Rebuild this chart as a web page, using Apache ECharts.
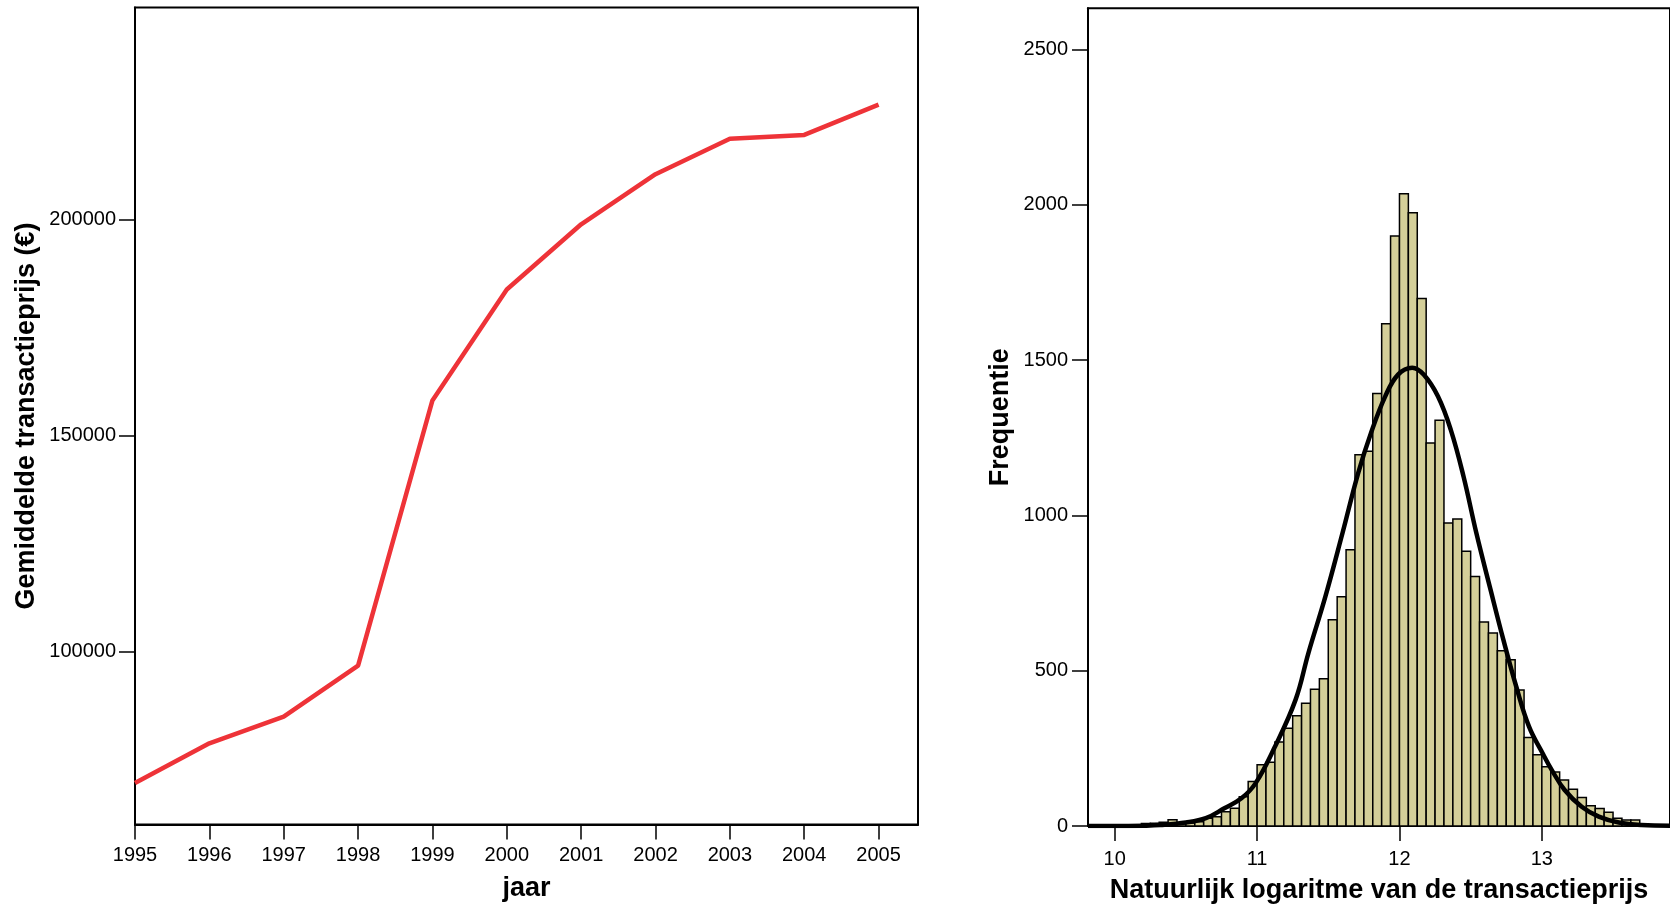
<!DOCTYPE html>
<html>
<head>
<meta charset="utf-8">
<title>Transactieprijs</title>
<script src="https://cdn.jsdelivr.net/npm/echarts@6.0.0/dist/echarts.min.js"></script>
<style>
html, body { margin: 0; padding: 0; background: #fff; overflow: hidden; }
#chart { width: 1670px; height: 912px; }
</style>
</head>
<body>
<div id="chart"></div>
<script>
// gemiddelde transactieprijs per jaar
var jaren = [1995, 1996, 1997, 1998, 1999, 2000, 2001, 2002, 2003, 2004, 2005];
var gemPrijs = [69600, 78800, 85000, 96800, 158200, 183900, 199000, 210600, 218800, 219700, 226700];
var prijsTicks = [100000, 150000, 200000];

// histogram ln(prijs), bins of 0.0625 starting at 9.8125
var binStart = 9.8125;
var binWidth = 0.0625;
var freq = [1, 2, 1, 2, 3, 3, 8, 9, 12, 20,
            8, 10, 14, 25, 30, 46, 57, 94, 143, 197,
            205, 270, 315, 355, 395, 440, 474, 664, 738, 889,
            1195, 1206, 1392, 1617, 1899, 2035, 1974, 1698, 1233, 1306,
            975, 988, 884, 803, 657, 621, 564, 535, 438, 285,
            229, 191, 174, 148, 118, 92, 65, 56, 44, 25,
            19, 19, 6, 4, 2, 1];
var lnTicks = [10, 11, 12, 13];
var freqTicks = [0, 500, 1000, 1500, 2000, 2500];

var curveX = [9.8125, 10.0, 10.2, 10.32, 10.5, 10.64, 10.77, 10.89, 10.99, 11.12, 11.27, 11.36, 11.48, 11.6, 11.71, 11.8, 11.9, 11.99,
              12.09, 12.17, 12.27, 12.36, 12.45, 12.54, 12.64, 12.73, 12.82, 12.91, 13.01, 13.07, 13.16, 13.28, 13.4, 13.54, 13.7, 13.9];
var curveY = [0, 0, 1, 3, 11, 25, 57, 89, 138, 250, 406, 556, 739, 943, 1136, 1265, 1383, 1453,
              1475, 1453, 1383, 1276, 1125, 943, 760, 599, 449, 320, 230, 180, 116, 62, 30, 11, 3, 1];

var font = '"Liberation Sans", Arial, Helvetica, sans-serif';

var histData = freq.map(function (c, i) {
    var x0 = binStart + i * binWidth;
    return [x0, x0 + binWidth, c];
});
var curveData = curveX.map(function (x, i) { return [x, curveY[i]]; });
var lineData = jaren.map(function (j, i) { return [j, gemPrijs[i]]; });

var tickLabel = { fontFamily: font, fontSize: 20, color: '#000' };
var axisTitle = { fontFamily: font, fontSize: 27, fontWeight: 'bold', color: '#000' };

var myChart = echarts.init(document.getElementById('chart'));
var option = {
    animation: false,
    backgroundColor: '#fff',
    grid: [
        { left: 135, top: 7.5, width: 783, height: 817, show: true, borderColor: '#000', borderWidth: 2, containLabel: false },
        { left: 1088, top: 8.3, width: 591, height: 817.7, show: true, borderColor: '#000', borderWidth: 2, containLabel: false }
    ],
    xAxis: [
        {
            gridIndex: 0, type: 'value', min: 1995, max: 2005.53,
            name: 'jaar', nameLocation: 'middle', nameGap: 51, nameTextStyle: axisTitle,
            axisLine: { lineStyle: { color: '#000', width: 2 } },
            axisTick: { customValues: jaren, length: 15, lineStyle: { color: '#000', width: 1.5 } },
            axisLabel: Object.assign({ customValues: jaren, margin: 21, formatter: function (v) { return String(v); } }, tickLabel),
            splitLine: { show: false }
        },
        {
            gridIndex: 1, type: 'value', min: 9.8125, max: 13.9,
            name: 'Natuurlijk logaritme van de transactieprijs', nameLocation: 'middle', nameGap: 51, nameTextStyle: axisTitle,
            axisLine: { lineStyle: { color: '#000', width: 2 } },
            axisTick: { customValues: lnTicks, length: 15, lineStyle: { color: '#000', width: 1.5 } },
            axisLabel: Object.assign({ customValues: lnTicks, margin: 23, formatter: function (v) { return String(v); } }, tickLabel),
            splitLine: { show: false }
        }
    ],
    yAxis: [
        {
            gridIndex: 0, type: 'value', min: 60000, max: 249200,
            name: 'Gemiddelde transactieprijs (€)', nameLocation: 'middle', nameGap: 95, nameTextStyle: axisTitle,
            axisLine: { lineStyle: { color: '#000', width: 2 } },
            axisTick: { customValues: prijsTicks, length: 16, lineStyle: { color: '#000', width: 1.5 } },
            axisLabel: Object.assign({ customValues: prijsTicks, margin: 19, formatter: function (v) { return String(v); } }, tickLabel),
            splitLine: { show: false }
        },
        {
            gridIndex: 1, type: 'value', min: 0, max: 2632,
            name: 'Frequentie', nameLocation: 'middle', nameGap: 74, nameTextStyle: axisTitle,
            axisLine: { lineStyle: { color: '#000', width: 2 } },
            axisTick: { customValues: freqTicks, length: 16, lineStyle: { color: '#000', width: 1.5 } },
            axisLabel: Object.assign({ customValues: freqTicks, margin: 20, formatter: function (v) { return String(v); } }, tickLabel),
            splitLine: { show: false }
        }
    ],
    series: [
        {
            name: 'gemiddelde prijs',
            type: 'line',
            xAxisIndex: 0, yAxisIndex: 0,
            data: lineData,
            showSymbol: false,
            symbol: 'none',
            lineStyle: { color: '#ee3338', width: 4.5 }
        },
        {
            name: 'frequentie',
            type: 'custom',
            xAxisIndex: 1, yAxisIndex: 1,
            data: histData,
            encode: { x: [0, 1], y: 2 },
            renderItem: function (params, api) {
                var p0 = api.coord([api.value(0), api.value(2)]);
                var p1 = api.coord([api.value(1), 0]);
                return {
                    type: 'rect',
                    shape: { x: p0[0], y: p0[1], width: p1[0] - p0[0], height: p1[1] - p0[1] },
                    style: { fill: '#d4cf99', stroke: '#000', lineWidth: 1.5 }
                };
            },
            z: 2
        },
        {
            name: 'normaal',
            type: 'line',
            xAxisIndex: 1, yAxisIndex: 1,
            data: curveData,
            smooth: 0.4,
            showSymbol: false,
            symbol: 'none',
            lineStyle: { color: '#000', width: 4.5 },
            z: 3
        }
    ]
};
myChart.setOption(option);
</script>
</body>
</html>
